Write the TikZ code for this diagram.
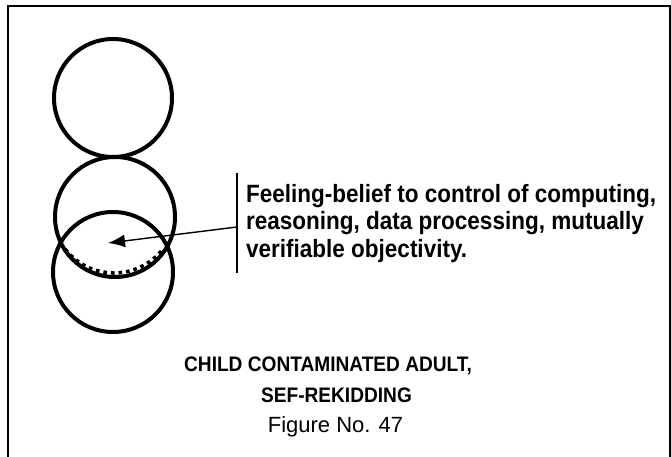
\documentclass[tikz,border=0pt]{standalone}
\usepackage{fontspec}
\setmainfont{Liberation Sans}
\newfontfamily\demifont[FakeStretch=0.9]{Liberation Sans}
\newfontfamily\capfont[FakeStretch=0.91]{Liberation Sans}
\usepackage{tikz}
\usetikzlibrary{positioning}
\usetikzlibrary{arrows.meta}
\tikzset{ring/.style={circle,draw,line width=4pt,minimum size=120pt,inner sep=0pt,outer sep=0pt}}
\tikzset{dotline/.style={line width=3.6pt,dash pattern=on 3.6pt off 4pt}}

\begin{document}
\begin{tikzpicture}[x=1pt,y=1pt]
\useasboundingbox (0,0) rectangle (671,457);
\draw[line width=1.5pt] (8,-3) rectangle (670,451);
% the three circles
\node[ring,minimum size=118pt] (upper) at (113,359) {};
\node[ring] (middle) at (115,240) {};
\node[ring] (lower) at (113,185) {};
\coordinate (hidden) at (114,246);
\draw[dotline] (hidden) ++(218:62) arc[start angle=218,end angle=322,radius=62];
% label with bar
\coordinate (bartop) at (237,284);
\coordinate (barbot) at (237,184);
\coordinate (barmid) at (237,230);
\coordinate (tip) at (108,214);
\draw[line width=2pt] (bartop) -- (barbot);
\draw[line width=1.4pt,-{Latex[length=17pt,width=13pt]}] (barmid) -- (tip);
\node[anchor=north west,inner sep=0pt,align=left,font=\demifont\bfseries\fontsize{25}{27.5}\selectfont] (note) at (246,273)
  {Feeling-belief to control of computing,\\reasoning, data processing, mutually\\verifiable objectivity.};
% caption
\node[anchor=base,inner sep=0pt,font=\capfont\bfseries\fontsize{21}{25}\selectfont] (capa) at (328,85) {CHILD CONTAMINATED ADULT,};
\node[anchor=base,inner sep=0pt,font=\capfont\bfseries\fontsize{21}{25}\selectfont] (capb) at (336.5,54) {SEF-REKIDDING};
\node[anchor=base,inner sep=0pt,font=\fontsize{22}{25}\selectfont] (capc) at (335.5,24) {Figure No. 47};
\end{tikzpicture}
\end{document}
